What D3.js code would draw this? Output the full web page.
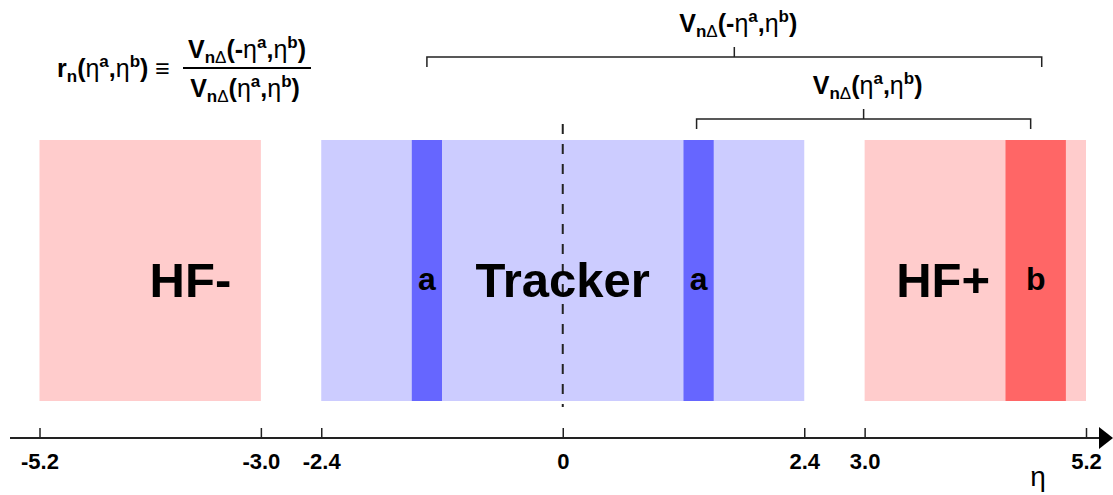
<!DOCTYPE html>
<html>
<head>
<meta charset="utf-8">
<script src="https://cdn.jsdelivr.net/npm/d3@7"></script>
<style>
  body { margin: 0; background: #fff; }
  text { font-family: "Liberation Sans", Arial, sans-serif; }
</style>
</head>
<body>
<div id="chart"></div>
<script>
const width = 1113;
const height = 495;

// detector regions in eta
const detectorNames = ["HF-", "Tracker", "HF+"];
const detectorLo = [-5.2, -2.4, 3.0];
const detectorHi = [-3.0, 2.4, 5.2];
const detectorLabelEta = [-3.7, 0, 3.78];

// reference / trigger bands
const bandNames = ["a", "a", "b"];
const bandLo = [-1.5, 1.2, 4.4];
const bandHi = [-1.2, 1.5, 5.0];

// axis ticks
const tickValues = [-5.2, -3.0, -2.4, 0, 2.4, 3.0, 5.2];
const tickLabels = ["-5.2", "-3.0", "-2.4", "0", "2.4", "3.0", "5.2"];

// brackets: V(-eta_a, eta_b) and V(eta_a, eta_b)
const bracketLo = [-1.35, 1.33];
const bracketHi = [4.76, 4.65];

const svg = d3.select("#chart").append("svg").attr("width", width).attr("height", height);

const x = d3.scaleLinear().domain([-5.2, 5.2]).range([39.5, 1086]);

const detectorColor = d3.scaleOrdinal().domain(detectorNames).range(["#ffcccc", "#ccccff", "#ffcccc"]);
const bandColor = d3.scaleOrdinal().domain(["a", "b"]).range(["#6666ff", "#ff6666"]);

const boxTop = 140;
const boxBottom = 401;
const axisY = 438;

// detector boxes
svg.append("g").selectAll("rect")
    .data(detectorNames)
    .join("rect")
    .attr("x", (d, i) => x(detectorLo[i]))
    .attr("width", (d, i) => x(detectorHi[i]) - x(detectorLo[i]))
    .attr("y", boxTop)
    .attr("height", boxBottom - boxTop)
    .attr("fill", d => detectorColor(d));

// bands
svg.append("g").selectAll("rect")
    .data(bandNames)
    .join("rect")
    .attr("x", (d, i) => x(bandLo[i]))
    .attr("width", (d, i) => x(bandHi[i]) - x(bandLo[i]))
    .attr("y", boxTop)
    .attr("height", boxBottom - boxTop)
    .attr("fill", d => bandColor(d));

// eta = 0 dashed line
svg.append("line")
    .attr("x1", x(0)).attr("x2", x(0))
    .attr("y1", 124).attr("y2", 407)
    .attr("stroke", "#222")
    .attr("stroke-width", 2)
    .attr("stroke-dasharray", "10,10");

// labels
svg.append("g").selectAll("text")
    .data(detectorNames)
    .join("text")
    .attr("x", (d, i) => x(detectorLabelEta[i]))
    .attr("y", 297)
    .attr("text-anchor", "middle")
    .attr("font-size", 49)
    .attr("font-weight", "bold")
    .text(d => d);

svg.append("g").selectAll("text")
    .data(bandNames)
    .join("text")
    .attr("x", (d, i) => x((bandLo[i] + bandHi[i]) / 2))
    .attr("y", 290)
    .attr("text-anchor", "middle")
    .attr("font-size", 32)
    .attr("font-weight", "bold")
    .text(d => d);

// axis
const axis = d3.axisBottom(x)
    .tickValues(tickValues)
    .tickFormat((d, i) => tickLabels[i])
    .tickSizeInner(-10)
    .tickSizeOuter(0)
    .tickPadding(15);

const axisG = svg.append("g").attr("transform", `translate(0,${axisY})`).call(axis);
axisG.select(".domain").remove();
axisG.selectAll(".tick line").attr("stroke", "#222").attr("stroke-width", 1.5);
axisG.selectAll(".tick text")
    .attr("font-size", 22)
    .attr("font-weight", "bold")
    .attr("fill", "#000")
    .style("font-family", '"Liberation Sans", Arial, sans-serif');

svg.append("line")
    .attr("x1", 10).attr("x2", 1100)
    .attr("y1", axisY).attr("y2", axisY)
    .attr("stroke", "#222").attr("stroke-width", 2);
svg.append("path")
    .attr("d", d3.line()([[1099, axisY - 11], [1113, axisY], [1099, axisY + 11]]) + "Z")
    .attr("fill", "#000");

svg.append("text")
    .attr("x", 1038).attr("y", 486)
    .attr("text-anchor", "middle")
    .attr("font-size", 28)
    .text("η");

// rich text with sub/superscripts
function richText(sel, px, py, anchor, parts, size) {
    const t = sel.append("text")
        .attr("x", px).attr("y", py)
        .attr("text-anchor", anchor)
        .attr("font-size", size)
        .attr("font-weight", "bold");
    let shift = 0;
    parts.forEach(([s, kind]) => {
        let target = 0;
        if (kind.startsWith("sub")) target = size * 0.18;
        if (kind.startsWith("sup")) target = -size * 0.42;
        const ts = t.append("tspan").attr("dy", target - shift).text(s);
        shift = target;
        if (kind.startsWith("sub") || kind.startsWith("sup")) ts.attr("font-size", size * 0.68);
        if (kind.endsWith("g")) ts.attr("font-weight", "normal");
    });
    return t;
}

const vMinus = [["V", "b"], ["n", "sub"], ["Δ", "subg"], ["(-", "b"], ["η", "g"], ["a", "sup"], [",", "b"], ["η", "g"], ["b", "sup"], [")", "b"]];
const vPlus = [["V", "b"], ["n", "sub"], ["Δ", "subg"], ["(", "b"], ["η", "g"], ["a", "sup"], [",", "b"], ["η", "g"], ["b", "sup"], [")", "b"]];
const rDef = [["r", "b"], ["n", "sub"], ["(", "b"], ["η", "g"], ["a", "sup"], [",", "b"], ["η", "g"], ["b", "sup"], [")", "b"], [" ≡", "b"]];

// brackets
const bracketY = [57, 119];
const bracketLabels = [vMinus, vPlus];
bracketLo.forEach((lo, i) => {
    const y0 = bracketY[i];
    const x0 = x(lo), x1 = x(bracketHi[i]), xm = x((lo + bracketHi[i]) / 2);
    svg.append("path")
        .attr("d", `M${x0},${y0 + 10}V${y0}H${x1}V${y0 + 10}M${xm},${y0}V${y0 - 10}`)
        .attr("fill", "none")
        .attr("stroke", "#222")
        .attr("stroke-width", 1.5);
    richText(svg, xm + 4, y0 - 25, "middle", bracketLabels[i], 25);
});

// ratio definition
richText(svg, 57, 77, "start", rDef, 25);
svg.append("line")
    .attr("x1", 183).attr("x2", 311)
    .attr("y1", 68).attr("y2", 68)
    .attr("stroke", "#000").attr("stroke-width", 2);
richText(svg, 247, 58, "middle", vMinus, 25);
richText(svg, 245, 97, "middle", vPlus, 25);
</script>
</body>
</html>
